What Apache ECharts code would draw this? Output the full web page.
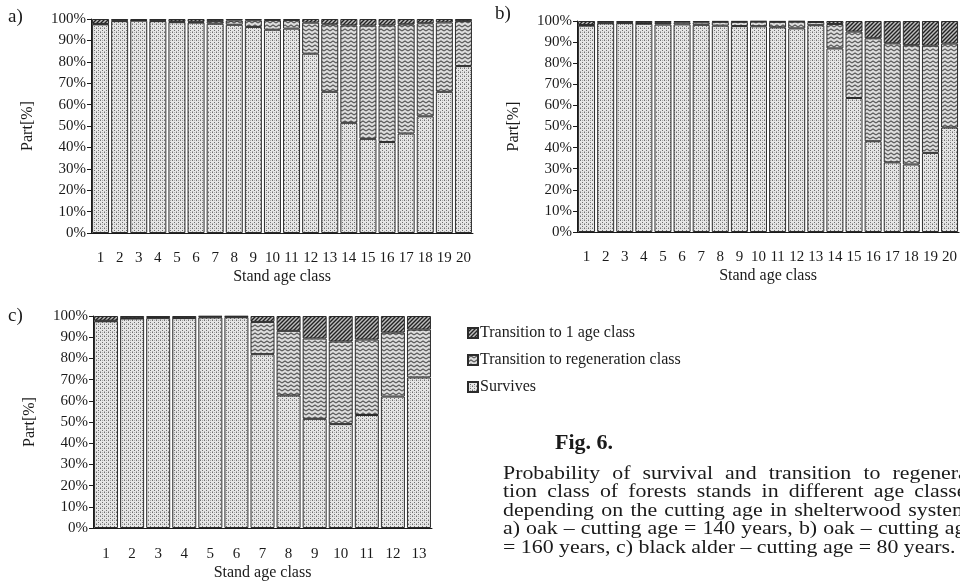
<!DOCTYPE html>
<html>
<head>
<meta charset="utf-8">
<script src="https://cdn.jsdelivr.net/npm/echarts@6/dist/echarts.min.js"></script>
<style>
  html, body { margin: 0; padding: 0; background: #fff; }
  #chart { width: 960px; height: 582px; }
</style>
</head>
<body>
<div id="chart"></div>
<script>
// stand age classes
const classesAB = ['1','2','3','4','5','6','7','8','9','10','11','12','13','14','15','16','17','18','19','20'];
const classesC = ['1','2','3','4','5','6','7','8','9','10','11','12','13'];

// a) oak, cutting age 140
const survA = [97.5, 99, 99.2, 99, 98.5, 98.3, 97.8, 97.3, 96.3, 95, 95.5, 83.8, 66, 51.5, 44, 42.5, 46.5, 54.5, 66, 78];
const regenA = [0.2, 0.3, 0.2, 0.3, 0.3, 0.4, 1.2, 2, 3.1, 4.5, 4, 14.5, 31.5, 45.5, 52.9, 54.5, 51, 43.5, 32.4, 21];
const firstA = [2.3, 0.7, 0.6, 0.7, 1.2, 1.3, 1, 0.7, 0.6, 0.5, 0.5, 1.7, 2.5, 3, 3.1, 3, 2.5, 2, 1.6, 1];

// b) oak, cutting age 160
const survB = [97.8, 98.9, 99, 98.7, 98.3, 98.4, 98.2, 97.8, 97.6, 97.5, 97, 96.5, 98, 87, 63.5, 43, 33, 32, 37.5, 49.5];
const regenB = [0.3, 0.3, 0.3, 0.3, 0.8, 1, 1.2, 1.8, 2, 2.2, 2.6, 3.2, 1.5, 11.6, 31.5, 48.8, 56.4, 56.5, 50.8, 39.8];
const firstB = [1.9, 0.8, 0.7, 1, 0.9, 0.6, 0.6, 0.4, 0.4, 0.3, 0.4, 0.3, 0.5, 1.4, 5, 8.2, 10.6, 11.5, 11.7, 10.7];

// c) black alder, cutting age 80
const survC = [97.5, 98.8, 99, 99, 99.3, 99.4, 82, 62.5, 51.5, 49, 53.3, 62, 71];
const regenC = [0.3, 0.2, 0.5, 0.1, 0.4, 0.3, 15.2, 30.5, 37.9, 39, 35.6, 30.2, 22.6];
const firstC = [2.2, 1, 0.5, 0.9, 0.3, 0.3, 2.8, 7, 10.6, 12, 11.1, 7.8, 6.4];

const seriesNames = ['Survives', 'Transition to regeneration class', 'Transition to 1 age class'];

const captionLines = [
  'Probability of survival and transition to regenera-',
  'tion class of  forests stands in different age classes',
  'depending on the cutting age in shelterwood system:',
  'a) oak \u2013 cutting age = 140 years, b) oak \u2013 cutting age',
  '= 160 years, c) black alder \u2013 cutting age = 80 years.'
];

const FONT = '"Liberation Serif", "Times New Roman", serif';
const INK = '#1a1a1a';

// fill patterns
function tile(w, h, draw) {
  const c = document.createElement('canvas');
  c.width = w; c.height = h;
  draw(c.getContext('2d'));
  return { image: c, repeat: 'repeat' };
}
const dotFill = tile(4, 4, function (g) {
  g.fillStyle = '#e6e6e6'; g.fillRect(0, 0, 4, 4);
  g.fillStyle = '#6e6e6e'; g.fillRect(0, 0, 1, 1); g.fillRect(2, 2, 1, 1);
  g.fillStyle = '#aaaaaa'; g.fillRect(2, 0, 1, 1); g.fillRect(0, 3, 1, 1);
});
const waveFill = tile(6, 4, function (g) {
  g.fillStyle = '#dedede'; g.fillRect(0, 0, 6, 4);
  g.strokeStyle = '#5a5a5a'; g.lineWidth = 1.1;
  g.beginPath(); g.moveTo(0, 3); g.lineTo(3, 1); g.lineTo(6, 3); g.stroke();
});
const hatchFill = tile(4, 4, function (g) {
  g.fillStyle = '#bdbdbd'; g.fillRect(0, 0, 4, 4);
  g.strokeStyle = '#222'; g.lineWidth = 1.4;
  g.beginPath();
  g.moveTo(-1, 5); g.lineTo(5, -1);
  g.moveTo(-3, 3); g.lineTo(3, -3);
  g.moveTo(1, 7); g.lineTo(7, 1);
  g.stroke();
});
const fills = [dotFill, waveFill, hatchFill];

const grids = [
  { left: 91, top: 19, width: 382, height: 214 },
  { left: 577, top: 21, width: 384, height: 211 },
  { left: 93, top: 316, width: 339, height: 213 }
];
const panels = [
  { cats: classesAB, data: [survA, regenA, firstA], barWidth: 17, labelMargin: 18, nameGap: 36 },
  { cats: classesAB, data: [survB, regenB, firstB], barWidth: 17, labelMargin: 18, nameGap: 36 },
  { cats: classesC, data: [survC, regenC, firstC], barWidth: 24, labelMargin: 19, nameGap: 37 }
];

const xAxes = [], yAxes = [], series = [];
panels.forEach(function (p, i) {
  xAxes.push({
    type: 'category', gridIndex: i, data: p.cats,
    name: 'Stand age class', nameLocation: 'middle', nameGap: p.nameGap,
    nameTextStyle: { fontFamily: FONT, fontSize: 16, color: INK },
    axisLine: { lineStyle: { color: INK, width: 1 } },
    axisTick: { length: 5, lineStyle: { color: INK } },
    axisLabel: { fontFamily: FONT, fontSize: 15, color: INK, margin: p.labelMargin, interval: 0 }
  });
  yAxes.push({
    type: 'value', gridIndex: i, min: 0, max: 100, interval: 10,
    name: 'Part[%]', nameLocation: 'middle', nameGap: 55,
    nameTextStyle: { fontFamily: FONT, fontSize: 16, color: INK },
    axisLine: { show: true, lineStyle: { color: INK, width: 1 } },
    axisTick: { show: true, length: 4, lineStyle: { color: INK } },
    splitLine: { show: false },
    axisLabel: { fontFamily: FONT, fontSize: 15, color: INK, margin: 5, formatter: '{value}%' }
  });
  p.data.forEach(function (vals, k) {
    series.push({
      name: seriesNames[k], type: 'bar', stack: 'panel' + i,
      xAxisIndex: i, yAxisIndex: i, data: vals, barWidth: p.barWidth,
      itemStyle: { color: fills[k], borderColor: '#2b2b2b', borderWidth: 1 },
      emphasis: { disabled: true }, silent: true
    });
  });
});

// caption, justified word by word (glyphs stretched a little, the printed face is wider)
const capFont = '19px ' + FONT;
const capStretch = 1.15;
const measure = document.createElement('canvas').getContext('2d');
measure.font = capFont;
const spaceW = measure.measureText(' ').width * capStretch;
const capLeft = 503, capWidth = 472, capTop = 474, capStep = 18.5;
const graphics = [
  { type: 'text', left: 8, top: 8, style: { text: 'a)', font: '19px ' + FONT, fill: INK } },
  { type: 'text', left: 495, top: 5, style: { text: 'b)', font: '19px ' + FONT, fill: INK } },
  { type: 'text', left: 8, top: 307, style: { text: 'c)', font: '19px ' + FONT, fill: INK } },
  { type: 'text', left: 555, top: 432, style: { text: 'Fig. 6.', font: 'bold 22px ' + FONT, fill: INK } }
];
captionLines.forEach(function (line, li) {
  const words = line.split(/\s+/);
  const widths = words.map(function (w) { return measure.measureText(w).width * capStretch; });
  const total = widths.reduce(function (a, b) { return a + b; }, 0);
  const last = li === captionLines.length - 1;
  let gap = last ? spaceW : (capWidth - total) / (words.length - 1);
  if (gap < spaceW * 0.8) gap = spaceW * 0.8;
  let x = capLeft;
  words.forEach(function (w, wi) {
    graphics.push({
      type: 'text', x: x, y: capTop + li * capStep, scaleX: capStretch,
      style: { text: w, font: capFont, fill: INK, textVerticalAlign: 'middle' }
    });
    x += widths[wi] + gap;
  });
});

const chart = echarts.init(document.getElementById('chart'), null, { renderer: 'canvas' });
chart.setOption({
  backgroundColor: '#fff',
  animation: false,
  grid: grids,
  xAxis: xAxes,
  yAxis: yAxes,
  legend: {
    orient: 'vertical', left: 462, top: 320, itemWidth: 10, itemHeight: 10, itemGap: 11,
    selectedMode: false, icon: 'rect',
    data: ['Transition to 1 age class', 'Transition to regeneration class', 'Survives'],
    textStyle: { fontFamily: FONT, fontSize: 16, color: INK, padding: [0, 0, 0, -3] }
  },
  series: series,
  graphic: graphics
});
</script>
</body>
</html>
